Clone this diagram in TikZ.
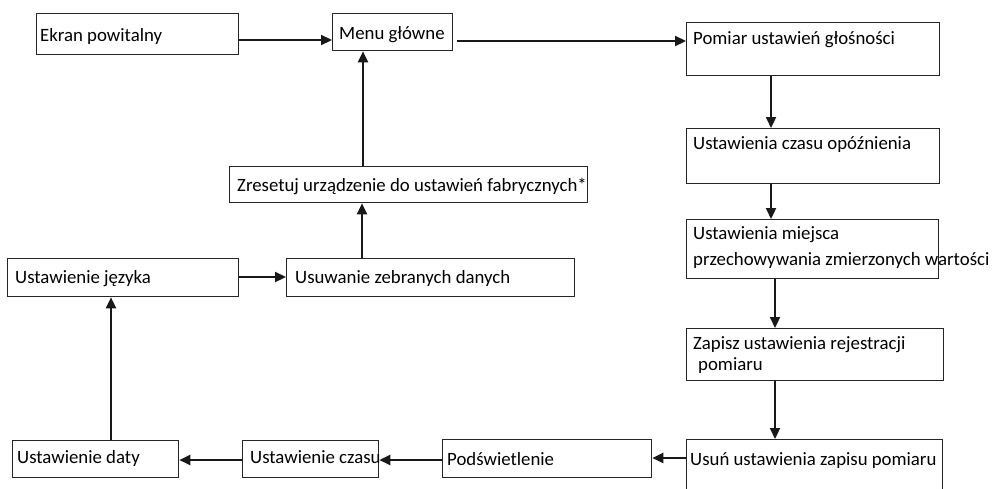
\documentclass[tikz,border=0pt]{standalone}
\usepackage{fontspec}
\setmainfont{Carlito}
\usetikzlibrary{arrows.meta}
\tikzset{
  box/.style={draw=black!85, line width=1.3pt, inner sep=0pt, anchor=north west},
  txt/.style={anchor=base west, inner sep=0pt, font=\fontsize{18.8}{22}\selectfont, text=black},
  arr/.style={line width=2.2pt, draw=black!90, -{Triangle[length=11pt,width=10pt]}}
}
\begin{document}
\begin{tikzpicture}[x=1pt,y=-1pt]
\useasboundingbox[fill=white] (0,0) rectangle (1000,488);
% boxes
\node[box, minimum width=202pt, minimum height=41pt] (ekran) at (36,13) {};
\node[box, minimum width=120pt, minimum height=37pt] (menu) at (332,13) {};
\node[box, minimum width=253pt, minimum height=53pt] (pomiar) at (686,22) {};
\node[box, minimum width=253pt, minimum height=55pt] (opozn) at (686,128) {};
\node[box, minimum width=252pt, minimum height=59pt] (miejsca) at (686,219) {};
\node[box, minimum width=257pt, minimum height=52pt] (zapisz) at (686,328) {};
\node[box, minimum width=256pt, minimum height=65pt] (usun) at (686,439) {};
\node[box, minimum width=209pt, minimum height=38pt] (podsw) at (442,439) {};
\node[box, minimum width=136pt, minimum height=37pt] (czasu) at (242,440) {};
\node[box, minimum width=166pt, minimum height=37pt] (daty) at (12,440) {};
\node[box, minimum width=231pt, minimum height=38pt] (jezyk) at (7,258) {};
\node[box, minimum width=288pt, minimum height=38pt] (usuwanie) at (286,258) {};
\node[box, minimum width=358pt, minimum height=36pt] (reset) at (229,166) {};
% texts
\node[txt] (ekran-t) at (40,41) {Ekran powitalny};
\node[txt] (menu-t) at (339,39) {Menu główne};
\node[txt] (pomiar-t) at (693,44) {Pomiar ustawień głośności};
\node[txt] (opozn-t) at (693,149) {Ustawienia czasu opóźnienia};
\node[txt] (miejsca-t1) at (693,239) {Ustawienia miejsca};
\node[txt] (miejsca-t2) at (693,265) {przechowywania zmierzonych wartości};
\node[txt] (zapisz-t1) at (693,349) {Zapisz ustawienia rejestracji};
\node[txt] (zapisz-t2) at (698,370) {pomiaru};
\node[txt] (usun-t) at (690,465) {Usuń ustawienia zapisu pomiaru};
\node[txt] (podsw-t) at (447,465) {Podświetlenie};
\node[txt] (czasu-t) at (250,463) {Ustawienie czasu};
\node[txt] (daty-t) at (17,463) {Ustawienie daty};
\node[txt] (jezyk-t) at (15,283) {Ustawienie języka};
\node[txt] (usuwanie-t) at (295,283) {Usuwanie zebranych danych};
\node[txt] (reset-t) at (237,191) {Zresetuj urządzenie do ustawień fabrycznych*};
% connectors
\draw[arr] (ekran.east |- 0,40) -- (menu.west |- 0,40);
\draw[arr] ([xshift=4pt]menu.east |- 0,41) -- (pomiar.west |- 0,41);
\draw[arr] (pomiar.south -| 771,0) -- (opozn.north -| 771,0);
\draw[arr] (opozn.south -| 771,0) -- (miejsca.north -| 771,0);
\draw[arr] (miejsca.south -| 775,0) -- (zapisz.north -| 775,0);
\draw[arr] (zapisz.south -| 775,0) -- (usun.north -| 775,0);
\draw[arr] (usun.west |- 0,458) -- (podsw.east |- 0,458);
\draw[arr] (podsw.west |- 0,460) -- (czasu.east |- 0,460);
\draw[arr] (czasu.west |- 0,460) -- (daty.east |- 0,460);
\draw[arr] (daty.north -| 111,0) -- (jezyk.south -| 111,0);
\draw[arr] (jezyk.east |- 0,277) -- (usuwanie.west |- 0,277);
\draw[arr] (usuwanie.north -| 362,0) -- (reset.south -| 362,0);
\draw[arr] (reset.north -| 363,0) -- (menu.south -| 363,0);
\end{tikzpicture}
\end{document}
